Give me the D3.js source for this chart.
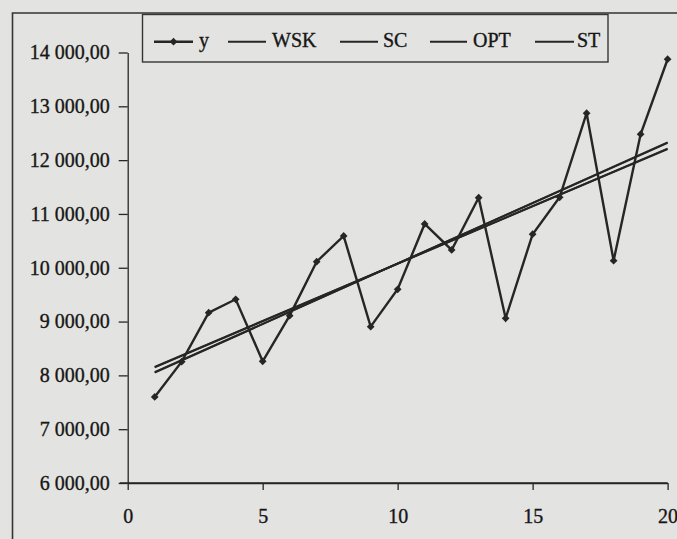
<!DOCTYPE html>
<html>
<head>
<meta charset="utf-8">
<script src="https://cdn.jsdelivr.net/npm/d3@7"></script>
<style>
  html, body { margin: 0; padding: 0; background: #e3e3e1; }
  svg { display: block; }
  text { font-family: "Liberation Serif", "Times New Roman", serif; fill: #161616; stroke: #161616; stroke-width: 0.35px; }
</style>
</head>
<body>
<svg id="chart" width="677" height="539"></svg>
<script>
// Observed series y for periods 1..20
const periods = [1,2,3,4,5,6,7,8,9,10,11,12,13,14,15,16,17,18,19,20];
const yValues = [7600, 8255, 9165, 9414, 8262, 9110, 10113, 10591, 8905, 9600,
                 10814, 10331, 11303, 9061, 10623, 11310, 12872, 10132, 12481, 13875];

// Trend models: value at the first and the last period
const trendNames = ["WSK", "SC", "OPT", "ST"];
const trendStart = [8060, 8052, 8160, 8150];
const trendEnd   = [12322, 12330, 12205, 12215];

const xTicks = [0, 5, 10, 15, 20];
const yTicks = [6000, 7000, 8000, 9000, 10000, 11000, 12000, 13000, 14000];
const legendLabels = ["y", "WSK", "SC", "OPT", "ST"];

const ink = "#262626";
const svg = d3.select("#chart");

const x = d3.scaleLinear().domain([0, 20]).range([127.7, 667.6]);
const y = d3.scaleLinear().domain([6000, 14000]).range([483, 52.5]);

const plLocale = d3.formatLocale({ decimal: ",", thousands: "\u00a0", grouping: [3], currency: ["", ""] });
const fmt = plLocale.format(",.2f");

// outer frame (left and top edges)
svg.append("path")
  .attr("d", "M12.5,539 L12.5,13 L677,13")
  .attr("fill", "none").attr("stroke", "#353535").attr("stroke-width", 1.6);

// y axis
const yAxis = svg.append("g")
  .attr("transform", `translate(${x(0)},0)`)
  .call(d3.axisLeft(y).tickValues(yTicks).tickFormat(fmt).tickSize(9).tickSizeOuter(0).tickPadding(9));
yAxis.selectAll("path, line").attr("stroke", ink).attr("stroke-width", 1.3);
yAxis.selectAll("text").attr("font-size", 20).attr("fill", "#161616")
  .attr("font-family", "Liberation Serif");

// x axis
const xAxis = svg.append("g")
  .attr("transform", `translate(0,${y(6000)})`)
  .call(d3.axisBottom(x).tickValues(xTicks).tickFormat(d3.format("d")).tickSize(7).tickSizeOuter(0).tickPadding(19));
xAxis.selectAll("path, line").attr("stroke", ink).attr("stroke-width", 1.3);
xAxis.selectAll("text").attr("font-size", 20).attr("fill", "#161616")
  .attr("font-family", "Liberation Serif");
// extend x axis line to the y tick at 6000
svg.append("line")
  .attr("x1", x(0) - 8).attr("x2", x(20))
  .attr("y1", y(6000)).attr("y2", y(6000))
  .attr("stroke", ink).attr("stroke-width", 1.3);

// trend lines
const trendG = svg.append("g");
trendNames.forEach((name, i) => {
  trendG.append("line")
    .attr("x1", x(periods[0])).attr("y1", y(trendStart[i]))
    .attr("x2", x(periods[periods.length - 1])).attr("y2", y(trendEnd[i]))
    .attr("stroke", ink).attr("stroke-width", 1.9);
});

// observed series
const line = d3.line().x((d, i) => x(periods[i])).y(d => y(d));
svg.append("path")
  .datum(yValues)
  .attr("d", line)
  .attr("fill", "none").attr("stroke", ink).attr("stroke-width", 2.4);

const diamond = d3.symbol().type(d3.symbolSquare).size(30);
svg.append("g").selectAll("path")
  .data(yValues)
  .join("path")
  .attr("d", diamond)
  .attr("transform", (d, i) => `translate(${x(periods[i])},${y(d)}) rotate(45)`)
  .attr("fill", ink);

// legend
const leg = svg.append("g");
leg.append("rect")
  .attr("x", 142.5).attr("y", 14.5).attr("width", 465.5).attr("height", 47.5)
  .attr("fill", "#e3e3e1").attr("stroke", "#353535").attr("stroke-width", 1.4);

const legLineX = [154, 228, 340, 430, 535];
const legLineW = [39, 38, 38, 37, 39];
const legTextX = [199, 272, 383, 473, 577];
const legY = 41.7;
legendLabels.forEach((lab, i) => {
  leg.append("line")
    .attr("x1", legLineX[i]).attr("x2", legLineX[i] + legLineW[i])
    .attr("y1", legY).attr("y2", legY)
    .attr("stroke", ink).attr("stroke-width", i === 0 ? 2.4 : 1.9);
  if (i === 0) {
    leg.append("path")
      .attr("d", diamond)
      .attr("transform", `translate(${legLineX[i] + legLineW[i] / 2},${legY}) rotate(45)`)
      .attr("fill", ink);
  }
  leg.append("text")
    .attr("x", legTextX[i]).attr("y", 47)
    .attr("font-size", 20)
    .text(lab);
});
</script>
</body>
</html>
